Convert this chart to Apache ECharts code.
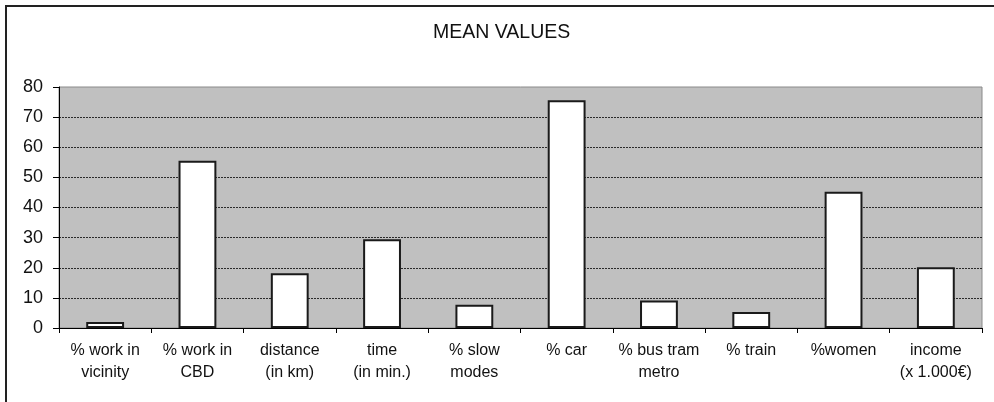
<!DOCTYPE html>
<html>
<head>
<meta charset="utf-8">
<script src="https://cdn.jsdelivr.net/npm/echarts@6/dist/echarts.min.js"></script>
<style>
  html, body { margin: 0; padding: 0; background: #ffffff; }
  #chart { width: 994px; height: 402px; }
</style>
</head>
<body>
<div id="chart"></div>
<script>
// Mean values per indicator
const categories = [
  '% work in\nvicinity',
  '% work in\nCBD',
  'distance\n(in km)',
  'time\n(in min.)',
  '% slow\nmodes',
  '% car',
  '% bus tram\nmetro',
  '% train',
  '%women',
  'income\n(x 1.000€)'
];
const meanValues = [2.0, 55.5, 18.2, 29.5, 7.7, 75.6, 9.1, 5.3, 45.2, 20.2];
const yTicks = { min: 0, max: 80, interval: 10 };

const FONT = '"Liberation Sans", Arial, sans-serif';

// dotted gridlines for 0..70, the top line is left to the plot border
const gridColors = [];
for (let v = yTicks.min; v <= yTicks.max; v += yTicks.interval) {
  gridColors.push(v === yTicks.max ? 'rgba(0,0,0,0)' : '#2a2a2a');
}

const chart = echarts.init(document.getElementById('chart'), null, { renderer: 'canvas' });
chart.setOption({
  backgroundColor: '#ffffff',
  animation: false,
  title: {
    text: 'MEAN VALUES',
    left: 428,
    top: 18,
    textStyle: { fontFamily: FONT, fontSize: 19.5, fontWeight: 'normal', color: '#111' }
  },
  graphic: [{
    type: 'rect',
    shape: { x: 6, y: 6, width: 1100, height: 500 },
    style: { fill: 'none', stroke: '#222', lineWidth: 2 },
    silent: true
  }],
  grid: {
    left: 59, right: 12, top: 87, bottom: 74,
    show: true,
    backgroundColor: '#c0c0c0',
    borderColor: '#8a8a8a',
    borderWidth: 1
  },
  xAxis: {
    type: 'category',
    data: categories,
    axisLine: { lineStyle: { color: '#000', width: 1 } },
    axisTick: { show: true, length: 5, lineStyle: { color: '#000' } },
    axisLabel: {
      margin: 12,
      fontFamily: FONT, fontSize: 16, color: '#111', lineHeight: 22,
      interval: 0
    },
    splitLine: { show: false }
  },
  yAxis: {
    type: 'value',
    min: yTicks.min, max: yTicks.max, interval: yTicks.interval,
    axisLine: { show: true, lineStyle: { color: '#000', width: 1 } },
    axisTick: { show: true, length: 6, lineStyle: { color: '#000' } },
    axisLabel: { margin: 16, fontFamily: FONT, fontSize: 18, color: '#111' },
    splitLine: {
      show: true,
      lineStyle: { color: gridColors, width: 1, type: [2, 1] }
    }
  },
  series: [{
    type: 'bar',
    data: meanValues,
    barWidth: '41%',
    itemStyle: { color: '#ffffff', borderColor: '#1a1a1a', borderWidth: 2 }
  }]
});
</script>
</body>
</html>
